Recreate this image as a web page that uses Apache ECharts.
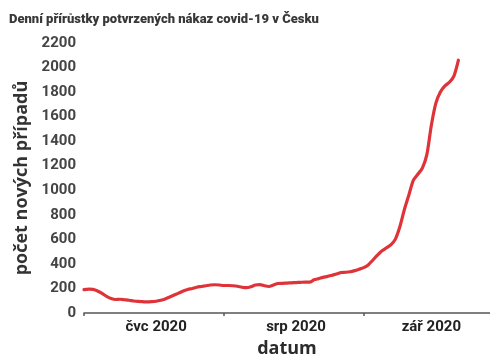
<!DOCTYPE html>
<html>
<head>
<meta charset="utf-8">
<script src="https://cdn.jsdelivr.net/npm/echarts@6/dist/echarts.min.js"></script>
<style>
  html, body { margin: 0; padding: 0; background: #fff; }
  #chart { width: 490px; height: 355px; }
</style>
</head>
<body>
<div id="chart"></div>
<script>
// Texts
const chartTitle = 'Denní přírůstky potvrzených nákaz covid-19 v Česku';
const yAxisName = 'počet nových případů';
const xAxisName = 'datum';

// Months shown on the date axis (label, number of days)
const monthLabels = ['čvc 2020', 'srp 2020', 'zář 2020'];
const monthDays = [31, 31, 30];
const firstDay = Date.UTC(2020, 6, 1);
const shownDays = 91; // 1 Jul – 29 Sep

// Daily confirmed cases (smoothed), starting 1 July 2020
const dailyCases = [
  190, 195, 192, 180, 160, 135, 118, 110, 112, 108,
  104, 98, 94, 92, 90, 92, 96, 104, 115, 130,
  146, 162, 180, 192, 200, 210, 216, 222, 228, 230,
  228, 224, 224, 222, 218, 210, 206, 214, 228, 232,
  222, 216, 228, 240, 242, 244, 246, 248, 250, 252,
  252, 270, 280, 290, 298, 308, 318, 330, 332, 336,
  345, 357, 370, 392, 430, 470, 505, 530, 555, 600,
  700, 840, 960, 1080, 1130, 1180, 1290, 1530, 1710, 1800,
  1850, 1880, 1930, 2060
];

// Category list of dates
const dates = [];
for (let i = 0; i < shownDays; i++) {
  const d = new Date(firstDay + i * 86400000);
  dates.push(d.toISOString().slice(0, 10));
}

// Month boundaries get ticks, month middles get labels
const monthStartIdx = [];
const monthMidIdx = {};
let acc = 0;
monthDays.forEach((len, m) => {
  monthStartIdx.push(acc);
  monthMidIdx[acc + Math.ceil(len / 2)] = monthLabels[m];
  acc += len;
});

const chart = echarts.init(document.getElementById('chart'), null, { renderer: 'canvas' });

chart.setOption({
  animation: false,
  backgroundColor: '#ffffff',
  title: {
    text: chartTitle,
    left: 4,
    top: 8,
    textStyle: {
      fontFamily: 'Roboto',
      fontWeight: 900,
      fontSize: 13,
      color: '#383838'
    }
  },
  grid: { left: 84, right: 0, top: 43, bottom: 42, containLabel: false, outerBoundsMode: 'none' },
  xAxis: {
    type: 'category',
    data: dates,
    boundaryGap: false,
    name: xAxisName,
    nameLocation: 'middle',
    nameGap: 27,
    nameTextStyle: { fontFamily: 'Open Sans', fontWeight: 'bold', fontSize: 18, color: '#2b2b2b' },
    axisLine: { lineStyle: { color: '#555555', width: 1.5 } },
    axisTick: {
      interval: (idx) => monthStartIdx.indexOf(idx) !== -1,
      length: 3,
      lineStyle: { color: '#555555', width: 1.5 }
    },
    axisLabel: {
      interval: (idx) => monthMidIdx[idx] !== undefined,
      formatter: (val, idx) => monthMidIdx[idx] || '',
      margin: 7,
      fontFamily: 'Roboto',
      fontWeight: 'bold',
      fontSize: 15,
      color: '#222222'
    },
    splitLine: { show: false }
  },
  yAxis: {
    type: 'value',
    min: 0,
    max: 2200,
    interval: 200,
    name: yAxisName,
    nameLocation: 'middle',
    nameGap: 47,
    nameTextStyle: { fontFamily: 'Open Sans', fontWeight: 'bold', fontSize: 18, color: '#333333' },
    axisLine: { show: false },
    axisTick: { show: false },
    axisLabel: {
      margin: 8,
      fontFamily: 'Roboto',
      fontWeight: 'bold',
      fontSize: 15,
      color: '#444444',
      formatter: (v) => String(v)
    },
    splitLine: { show: false }
  },
  series: [{
    type: 'line',
    data: dailyCases,
    showSymbol: false,
    smooth: 0.25,
    lineStyle: { color: '#de3439', width: 3.2, cap: 'round', join: 'round' }
  }]
});
</script>
</body>
</html>
